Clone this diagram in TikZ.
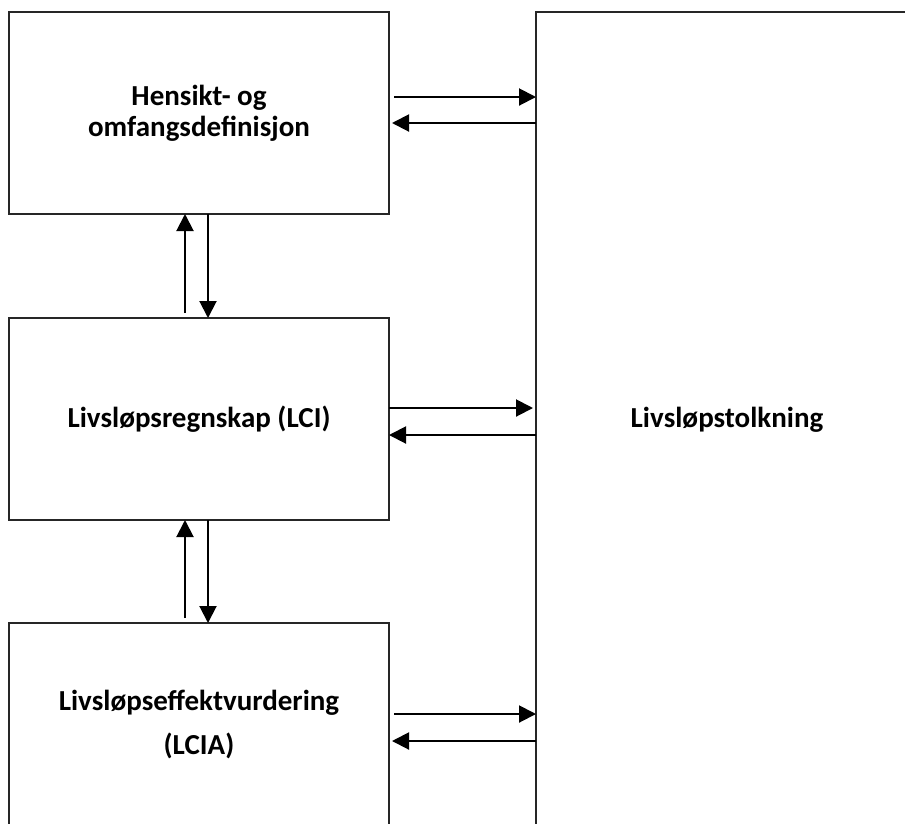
\documentclass[tikz,border=0pt]{standalone}
\usepackage{fontspec}
\setmainfont{Carlito}
\usetikzlibrary{arrows.meta}
\begin{document}
\begin{tikzpicture}[x=1pt,y=-1pt,
  box/.style={draw=black!85,line width=2pt,rectangle,inner sep=0pt,outer sep=0pt,
    anchor=north west,align=center,font=\fontsize{29}{31}\selectfont\bfseries},
  arr/.style={line width=2pt,-{Triangle[length=17pt,width=17pt]}}]
\useasboundingbox (0,0) rectangle (905,823);
\clip (0,0) rectangle (905,823);
\node[box,minimum width=380pt,minimum height=202pt] (top) at (9,12) {Hensikt- og\\omfangsdefinisjon};
\node[box,minimum width=380pt,minimum height=202pt] (mid) at (9,318) {Livsløpsregnskap (LCI)};
\node[box,minimum width=380pt,minimum height=202pt] (bot) at (9,623) {Livsløpseffektvurdering\\[13pt](LCIA)};
\node[box,minimum width=382pt,minimum height=816pt] (rt) at (536,12) {Livsløpstolkning};
% horizontal arrows
\draw[arr,shorten <=5pt] (top.east |- 0,97) -- (rt.west |- 0,97);
\draw[arr,shorten >=3pt] (rt.west |- 0,123) -- (top.east |- 0,123);
\draw[arr,shorten >=3pt] (mid.east |- 0,408) -- (rt.west |- 0,408);
\draw[arr] (rt.west |- 0,435) -- (mid.east |- 0,435);
\draw[arr,shorten <=5pt] (bot.east |- 0,714) -- (rt.west |- 0,714);
\draw[arr,shorten >=3pt] (rt.west |- 0,741) -- (bot.east |- 0,741);
% vertical arrows
\draw[arr,shorten <=5pt] (mid.north -| 185,0) -- (top.south -| 185,0);
\draw[arr] (top.south -| 208,0) -- (mid.north -| 208,0);
\draw[arr,shorten <=5pt] (bot.north -| 185,0) -- (mid.south -| 185,0);
\draw[arr] (mid.south -| 208,0) -- (bot.north -| 208,0);
\end{tikzpicture}
\end{document}
